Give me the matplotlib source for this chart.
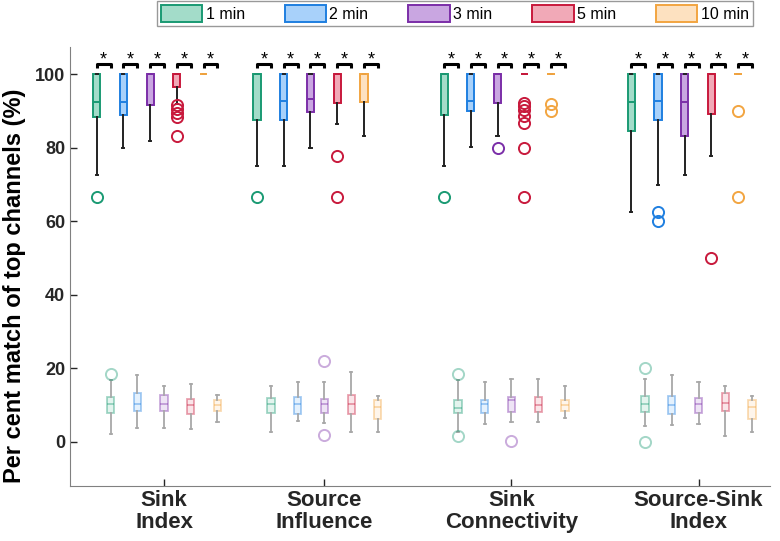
import numpy as np
import matplotlib.pyplot as plt
import matplotlib.colors as mcolors
from matplotlib.patches import Patch

plt.rcParams['font.family'] = ['Liberation Sans', 'DejaVu Sans']

metrics = ['Sink\nIndex', 'Source\nInfluence', 'Sink\nConnectivity', 'Source-Sink\nIndex']
durations = ['1 min', '2 min', '3 min', '5 min', '10 min']
edge_colors = ['#1a9a73', '#1f7fe0', '#7b2ea8', '#c8193c', '#f2a541']
face_colors = ['#a3dcc9', '#a8d1fa', '#c9a6e1', '#f1a9b7', '#fde1c0']

# match of top channels, rows = metrics, cols = durations
top_lo = [[72.6, 80.0, 81.8, 92.0, 100], [75.0, 75.0, 80.0, 86.5, 83.3],
          [75.0, 80.1, 83.3, 100, 100], [62.5, 69.8, 72.6, 77.7, 100]]
top_q1 = [[88.4, 88.9, 91.5, 96.4, 100], [87.5, 87.5, 89.7, 92.3, 92.5],
          [88.9, 90.1, 92.3, 100, 100], [84.5, 87.5, 83.3, 89.1, 100]]
top_med = [[92.4, 92.4, 100, 100, 100], [100, 92.8, 93.3, 100, 100],
           [100, 92.8, 100, 100, 100], [92.4, 92.8, 92.4, 100, 100]]
top_q3 = [[100] * 5, [100] * 5, [100] * 5, [100] * 5]
top_hi = [[100] * 5, [100] * 5, [100] * 5, [100] * 5]
top_out = [[[66.7], [], [], [91.6, 90.5, 89.4, 88.3, 83.2], []],
           [[66.7], [], [], [77.7, 66.7], []],
           [[66.7], [], [80.0], [92.3, 91.3, 90.4, 88.6, 86.6, 79.8, 66.7], [91.9, 90.1]],
           [[], [62.6, 60.0], [], [49.9], [90.0, 66.7]]]

# chance-level (random) match
bot_lo = [[2.0, 3.8, 3.8, 3.3, 5.2], [2.6, 5.5, 5.0, 2.5, 2.7],
          [2.7, 4.7, 5.2, 5.2, 6.5], [4.1, 4.5, 4.7, 1.4, 2.6]]
bot_q1 = [[7.7, 8.4, 8.2, 7.5, 8.2], [7.7, 7.5, 7.7, 7.5, 6.2],
          [7.7, 7.7, 8.0, 8.0, 8.2], [8.0, 7.5, 7.7, 8.4, 6.1]]
bot_med = [[10.2, 10.2, 10.2, 10.0, 10.0], [10.3, 10.2, 10.3, 10.2, 9.4],
           [9.1, 10.3, 11.2, 10.0, 10.0], [10.2, 10.0, 10.3, 10.6, 9.4]]
bot_q3 = [[12.1, 13.2, 12.7, 11.6, 11.3], [11.8, 12.1, 11.6, 12.7, 11.3],
          [11.2, 11.3, 12.1, 12.1, 11.3], [12.5, 12.4, 11.8, 13.2, 11.2]]
bot_hi = [[16.8, 18.1, 15.0, 15.6, 12.6], [15.2, 16.3, 16.3, 18.8, 12.4],
          [16.7, 16.1, 17.0, 17.0, 15.2], [17.1, 18.0, 16.1, 15.2, 12.5]]
bot_out = [[[18.3], [], [], [], []],
           [[], [], [21.9, 1.8], [], []],
           [[18.3, 1.5], [], [0.2], [], []],
           [[20.0, 0.0], [], [], [], []]]

group_centers = [0, 6, 13, 20]
w = 0.27

fig = plt.figure(figsize=(7.8, 5.41), dpi=100)
ax = fig.add_axes([0.0897, 0.1017, 0.897, 0.8113])

for g in range(4):
    for k in range(5):
        ec = edge_colors[k]
        x_bot = group_centers[g] + (k - 2)
        x_top = x_bot - 0.52

        st = dict(whislo=top_lo[g][k], q1=top_q1[g][k], med=top_med[g][k],
                  q3=top_q3[g][k], whishi=top_hi[g][k], fliers=top_out[g][k])
        ax.bxp([st], positions=[x_top], widths=w, patch_artist=True,
               showfliers=True, manage_ticks=False, capwidths=0.08,
               boxprops=dict(facecolor=face_colors[k], edgecolor=ec, lw=1.4),
               medianprops=dict(color=ec, lw=1.4),
               whiskerprops=dict(color='#222222', lw=1.4),
               capprops=dict(color='#222222', lw=1.4),
               flierprops=dict(marker='o', mfc='none', mec=ec, ms=8, mew=1.4))

        faint = mcolors.to_rgba(ec, 0.4)
        sb = dict(whislo=bot_lo[g][k], q1=bot_q1[g][k], med=bot_med[g][k],
                  q3=bot_q3[g][k], whishi=bot_hi[g][k], fliers=bot_out[g][k])
        ax.bxp([sb], positions=[x_bot], widths=w, patch_artist=True,
               showfliers=True, manage_ticks=False, capwidths=0.08,
               boxprops=dict(facecolor=mcolors.to_rgba(face_colors[k], 0.3), edgecolor=faint, lw=1.3),
               medianprops=dict(color=faint, lw=1.3),
               whiskerprops=dict(color='#a8a8a8', lw=1.3),
               capprops=dict(color='#a8a8a8', lw=1.3),
               flierprops=dict(marker='o', mfc='none', mec=faint, ms=8, mew=1.4))

        # significance bracket between top and chance boxes
        ax.plot([x_top, x_top, x_bot, x_bot], [101.7, 102.9, 102.9, 101.7],
                color='k', lw=2.2, solid_capstyle='butt')
        ax.text((x_top + x_bot) / 2, 104.0, '*', ha='center', va='center',
                fontsize=13, color='k')

ax.set_xlim(-3.52, 22.66)
ax.set_ylim(-12.1, 107.4)
ax.set_xticks(group_centers)
ax.set_xticklabels(metrics, fontsize=16, fontweight='bold', linespacing=1.05)
ax.set_yticks([0, 20, 40, 60, 80, 100])
ax.tick_params(axis='y', labelsize=13, direction='in', length=5, width=1, colors='#262626')
ax.tick_params(axis='x', direction='in', length=5, width=1, pad=3, colors='#262626')
for lab in ax.get_yticklabels():
    lab.set_fontweight('bold')
ax.set_ylabel('Per cent match of top channels (%)', fontsize=17, fontweight='bold')
ax.yaxis.set_label_coords(-0.063, 0.456)
for s in ['top', 'right']:
    ax.spines[s].set_visible(False)
for s in ['left', 'bottom']:
    ax.spines[s].set_color('#808080')

handles = [Patch(facecolor=face_colors[k], edgecolor=edge_colors[k], lw=1.4, label=durations[k])
           for k in range(5)]
leg = fig.legend(handles=handles, loc='upper center', bbox_to_anchor=(0.583, 0.998), ncol=5,
                 fontsize=11.5, frameon=True, fancybox=False, edgecolor='#808080',
                 handlelength=2.6, handleheight=1.3, handletextpad=0.2, columnspacing=2.5,
                 borderpad=0.25, borderaxespad=0)
leg.get_frame().set_linewidth(1)

plt.savefig('out.png', dpi=100)
